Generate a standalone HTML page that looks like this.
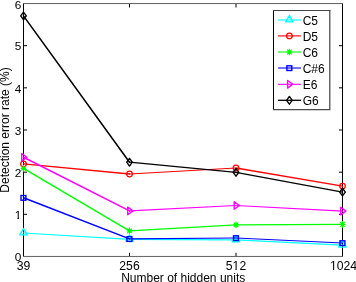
<!DOCTYPE html>
<html><head><meta charset="utf-8"><title>Detection error rate</title>
<style>
html,body{margin:0;padding:0;background:#fff;}
body{width:356px;height:282px;overflow:hidden;}
svg{display:block;}
text{font-family:"Liberation Sans",sans-serif;font-size:12px;fill:#000;}
.t{font-size:11.8px;}
.x{font-size:12.2px;}
</style></head><body>
<svg width="356" height="282" viewBox="0 0 356 282">
<rect width="356" height="282" fill="#fff"/>
<g stroke="#000" stroke-width="1" fill="none">
<path d="M23.5 3.5V256.5M342.5 3.5V256.5"/>
<path d="M23 256.45H343" stroke="#606060" stroke-width="1"/>
<path d="M23 3.55H343" stroke="#606060" stroke-width="1"/>
<path d="M24 214.33H27M342 214.33H339M24 172.17H27M342 172.17H339M24 130.00H27M342 130.00H339M24 87.83H27M342 87.83H339M24 45.66H27M342 45.66H339M129.50 256V252.8M129.50 4V7.5M236.00 256V252.8M236.00 4V7.5"/>
</g>
<line x1="23.50" y1="233.00" x2="129.50" y2="239.30" stroke="#00ffff" stroke-width="1.25" stroke-linecap="round"/>
<line x1="129.50" y1="239.30" x2="236.00" y2="239.85" stroke="#00ffff" stroke-width="1.20" stroke-linecap="round"/>
<line x1="236.00" y1="239.85" x2="342.50" y2="245.20" stroke="#00ffff" stroke-width="1.24" stroke-linecap="round"/>
<polygon points="23.50,228.60 19.75,234.90 27.25,234.90" fill="none" stroke="#00ffff" stroke-width="1.4" stroke-linejoin="round"/>
<polygon points="129.50,234.90 125.75,241.20 133.25,241.20" fill="none" stroke="#00ffff" stroke-width="1.4" stroke-linejoin="round"/>
<polygon points="236.00,235.45 232.25,241.75 239.75,241.75" fill="none" stroke="#00ffff" stroke-width="1.4" stroke-linejoin="round"/>
<polygon points="342.50,240.80 338.75,247.10 346.25,247.10" fill="none" stroke="#00ffff" stroke-width="1.4" stroke-linejoin="round"/>
<line x1="23.50" y1="163.90" x2="129.50" y2="174.00" stroke="#ff0000" stroke-width="1.27" stroke-linecap="round"/>
<line x1="129.50" y1="174.00" x2="236.00" y2="168.00" stroke="#ff0000" stroke-width="1.24" stroke-linecap="round"/>
<line x1="236.00" y1="168.00" x2="342.50" y2="186.10" stroke="#ff0000" stroke-width="1.33" stroke-linecap="round"/>
<circle cx="23.50" cy="163.90" r="2.8" fill="none" stroke="#ff0000" stroke-width="1.25"/>
<circle cx="129.50" cy="174.00" r="2.8" fill="none" stroke="#ff0000" stroke-width="1.25"/>
<circle cx="236.00" cy="168.00" r="2.8" fill="none" stroke="#ff0000" stroke-width="1.25"/>
<circle cx="342.50" cy="186.10" r="2.8" fill="none" stroke="#ff0000" stroke-width="1.25"/>
<line x1="23.50" y1="168.40" x2="129.50" y2="230.90" stroke="#00ff00" stroke-width="1.55" stroke-linecap="round"/>
<line x1="129.50" y1="230.90" x2="236.00" y2="224.90" stroke="#00ff00" stroke-width="1.24" stroke-linecap="round"/>
<line x1="236.00" y1="224.90" x2="342.50" y2="224.40" stroke="#00ff00" stroke-width="1.20" stroke-linecap="round"/>
<path d="M23.50 165.10V171.70M20.80 168.40H26.20M21.20 166.10L25.80 170.70M21.20 170.70L25.80 166.10" fill="none" stroke="#00ff00" stroke-width="1.2"/>
<path d="M129.50 227.60V234.20M126.80 230.90H132.20M127.20 228.60L131.80 233.20M127.20 233.20L131.80 228.60" fill="none" stroke="#00ff00" stroke-width="1.2"/>
<path d="M236.00 221.60V228.20M233.30 224.90H238.70M233.70 222.60L238.30 227.20M233.70 227.20L238.30 222.60" fill="none" stroke="#00ff00" stroke-width="1.2"/>
<path d="M342.50 221.10V227.70M339.80 224.40H345.20M340.20 222.10L344.80 226.70M340.20 226.70L344.80 222.10" fill="none" stroke="#00ff00" stroke-width="1.2"/>
<line x1="23.50" y1="197.70" x2="129.50" y2="238.90" stroke="#0000ff" stroke-width="1.50" stroke-linecap="round"/>
<line x1="129.50" y1="238.90" x2="236.00" y2="238.00" stroke="#0000ff" stroke-width="1.21" stroke-linecap="round"/>
<line x1="236.00" y1="238.00" x2="342.50" y2="243.00" stroke="#0000ff" stroke-width="1.24" stroke-linecap="round"/>
<rect x="21.00" y="195.50" width="4.9" height="4.7" fill="none" stroke="#0000ff" stroke-width="1.4"/>
<rect x="127.00" y="236.70" width="4.9" height="4.7" fill="none" stroke="#0000ff" stroke-width="1.4"/>
<rect x="233.50" y="235.80" width="4.9" height="4.7" fill="none" stroke="#0000ff" stroke-width="1.4"/>
<rect x="340.00" y="240.80" width="4.9" height="4.7" fill="none" stroke="#0000ff" stroke-width="1.4"/>
<line x1="23.50" y1="157.30" x2="129.50" y2="210.90" stroke="#ff00ff" stroke-width="1.55" stroke-linecap="round"/>
<line x1="129.50" y1="210.90" x2="236.00" y2="205.50" stroke="#ff00ff" stroke-width="1.24" stroke-linecap="round"/>
<line x1="236.00" y1="205.50" x2="342.50" y2="211.10" stroke="#ff00ff" stroke-width="1.24" stroke-linecap="round"/>
<polygon points="26.90,157.30 21.70,153.50 21.70,161.10" fill="none" stroke="#ff00ff" stroke-width="1.4" stroke-linejoin="round"/>
<polygon points="132.90,210.90 127.70,207.10 127.70,214.70" fill="none" stroke="#ff00ff" stroke-width="1.4" stroke-linejoin="round"/>
<polygon points="239.40,205.50 234.20,201.70 234.20,209.30" fill="none" stroke="#ff00ff" stroke-width="1.4" stroke-linejoin="round"/>
<polygon points="345.90,211.10 340.70,207.30 340.70,214.90" fill="none" stroke="#ff00ff" stroke-width="1.4" stroke-linejoin="round"/>
<line x1="23.50" y1="15.90" x2="129.50" y2="162.20" stroke="#000000" stroke-width="1.55" stroke-linecap="round"/>
<line x1="129.50" y1="162.20" x2="236.00" y2="172.30" stroke="#000000" stroke-width="1.27" stroke-linecap="round"/>
<line x1="236.00" y1="172.30" x2="342.50" y2="192.10" stroke="#000000" stroke-width="1.34" stroke-linecap="round"/>
<polygon points="23.50,12.05 26.30,15.90 23.50,19.75 20.70,15.90" fill="none" stroke="#000000" stroke-width="1.4" stroke-linejoin="round"/>
<polygon points="129.50,158.35 132.30,162.20 129.50,166.05 126.70,162.20" fill="none" stroke="#000000" stroke-width="1.4" stroke-linejoin="round"/>
<polygon points="236.00,168.45 238.80,172.30 236.00,176.15 233.20,172.30" fill="none" stroke="#000000" stroke-width="1.4" stroke-linejoin="round"/>
<polygon points="342.50,188.25 345.30,192.10 342.50,195.95 339.70,192.10" fill="none" stroke="#000000" stroke-width="1.4" stroke-linejoin="round"/>
<text class="t" x="21.2" y="261.20" text-anchor="end">0</text>
<text class="t" x="21.2" y="219.03" text-anchor="end">1</text>
<text class="t" x="21.2" y="176.87" text-anchor="end">2</text>
<text class="t" x="21.2" y="134.70" text-anchor="end">3</text>
<text class="t" x="21.2" y="92.53" text-anchor="end">4</text>
<text class="t" x="21.2" y="50.36" text-anchor="end">5</text>
<text class="t" x="21.2" y="8.50" text-anchor="end">6</text>
<text class="x" x="23.50" y="269.5" text-anchor="middle">39</text>
<text class="x" x="129.50" y="269.5" text-anchor="middle">256</text>
<text class="x" x="236.00" y="269.5" text-anchor="middle">512</text>
<text class="x" x="343.50" y="269.5" text-anchor="middle">1024</text>
<text x="183.2" y="281.9" text-anchor="middle">Number of hidden units</text>
<text transform="translate(8.6 130.0) rotate(-90)" text-anchor="middle">Detection error rate (%)</text>
<path d="M14.4 217.95h2.9v1.3h-2.9zM19 217.95h2.2v1.3h-2.2zM329.4 268.95h3.6v1.3h-3.6zM334.15 268.95h3.2v1.3h-3.2zM232.4 268.95h3.05v1.3h-3.05zM236.65 268.95h2.6v1.3h-2.6z" fill="#fff" stroke="none"/>
<rect x="273.5" y="10.5" width="56.4" height="98.9" fill="#fff" stroke="none"/>
<path d="M273.5 10V110" stroke="#000" stroke-width="1" fill="none"/>
<path d="M273 10.5H330.4" stroke="#444" stroke-width="1" fill="none"/>
<path d="M329.8 10V110M273 109.6H330.4" stroke="#4a4a4a" stroke-width="1.25" fill="none"/>
<path d="M278 20.00H301" stroke="#00ffff" stroke-width="1.1" fill="none"/>
<polygon points="289.40,15.60 285.65,21.90 293.15,21.90" fill="none" stroke="#00ffff" stroke-width="1.4" stroke-linejoin="round"/>
<text x="302.7" y="24.80">C5</text>
<path d="M278 35.90H301" stroke="#ff0000" stroke-width="1.1" fill="none"/>
<circle cx="289.40" cy="35.90" r="2.8" fill="none" stroke="#ff0000" stroke-width="1.25"/>
<text x="302.7" y="40.70">D5</text>
<path d="M278 52.00H301" stroke="#00ff00" stroke-width="1.1" fill="none"/>
<path d="M289.40 48.70V55.30M286.70 52.00H292.10M287.10 49.70L291.70 54.30M287.10 54.30L291.70 49.70" fill="none" stroke="#00ff00" stroke-width="1.2"/>
<text x="302.7" y="56.80">C6</text>
<path d="M278 68.00H301" stroke="#0000ff" stroke-width="1.1" fill="none"/>
<rect x="286.90" y="65.80" width="4.9" height="4.7" fill="none" stroke="#0000ff" stroke-width="1.4"/>
<text x="302.7" y="72.80">C#6</text>
<path d="M278 84.30H301" stroke="#ff00ff" stroke-width="1.1" fill="none"/>
<polygon points="292.80,84.30 287.60,80.50 287.60,88.10" fill="none" stroke="#ff00ff" stroke-width="1.4" stroke-linejoin="round"/>
<text x="302.7" y="89.10">E6</text>
<path d="M278 100.30H301" stroke="#000000" stroke-width="1.3" fill="none"/>
<polygon points="289.40,96.45 292.20,100.30 289.40,104.15 286.60,100.30" fill="none" stroke="#000000" stroke-width="1.4" stroke-linejoin="round"/>
<text x="302.7" y="105.10">G6</text>
</svg></body></html>
